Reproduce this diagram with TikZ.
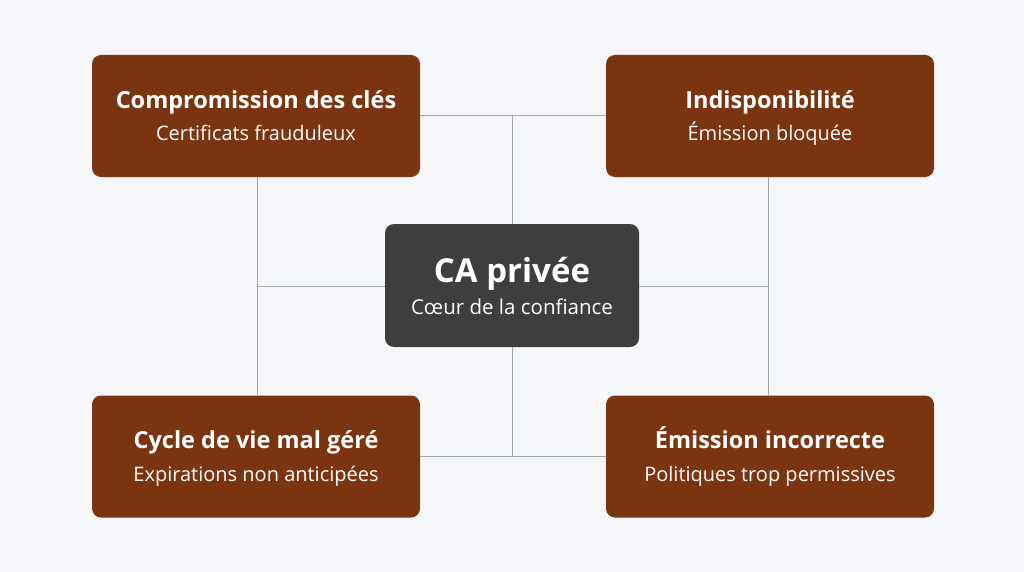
\documentclass[tikz,border=0pt]{standalone}
\usepackage{fontspec}
\setmainfont{Open Sans}
\usetikzlibrary{positioning}
\definecolor{riskbrown}{HTML}{7A3510}
\definecolor{coregrey}{HTML}{3E3E3E}
\definecolor{bgpale}{HTML}{F5F7FA}
\definecolor{linkgrey}{HTML}{A3A7AB}
\tikzset{
  risk/.style={fill=riskbrown, rounded corners=9pt, minimum width=328pt, minimum height=122pt, text=white, align=center, inner sep=0pt},
  core/.style={fill=coregrey, rounded corners=9pt, minimum width=254pt, minimum height=123pt, text=white, align=center, inner sep=0pt},
  link/.style={draw=linkgrey, line width=1pt}
}
\newcommand{\risktext}[2]{{\fontsize{23.5}{28}\selectfont\bfseries #1\vphantom{Ég}}\\[7pt]{\fontsize{20}{24}\selectfont #2\vphantom{Ég}}}
\begin{document}
\begin{tikzpicture}[x=1pt,y=-1pt]
\fill[bgpale] (0,0) rectangle (1024,572);
\useasboundingbox (0,0) rectangle (1024,572);

\node[core] (ca) at (512,285.5) {{\fontsize{33}{38}\selectfont\bfseries CA privée\vphantom{Ég}}\\[4pt]{\fontsize{20.5}{25}\selectfont Cœur de la confiance\vphantom{Ég}}};

\node[risk] (keys) at (256,116) {\risktext{Compromission des clés}{Certificats frauduleux}};
\node[risk] (down) at (770,116) {\risktext{Indisponibilité}{Émission bloquée}};
\node[risk] (life) at (256,456.5) {\risktext{Cycle de vie mal géré}{Expirations non anticipées}};
\node[risk] (issue) at (770,456.5) {\risktext{Émission incorrecte}{Politiques trop permissives}};

% liaisons
\coordinate (tj) at (512,116);
\coordinate (bj) at (512,456.5);
\coordinate (lj) at (257,286);
\coordinate (rj) at (768,286);
\draw[link] (keys.east) -- (down.west);
\draw[link] (tj) -- (ca.north);
\draw[link] (life.east) -- (issue.west);
\draw[link] (ca.south) -- (bj);
\draw[link] (keys.south -| lj) -- (life.north -| lj);
\draw[link] (lj) -- (ca.west |- lj);
\draw[link] (down.south -| rj) -- (issue.north -| rj);
\draw[link] (ca.east |- rj) -- (rj);
\end{tikzpicture}
\end{document}
